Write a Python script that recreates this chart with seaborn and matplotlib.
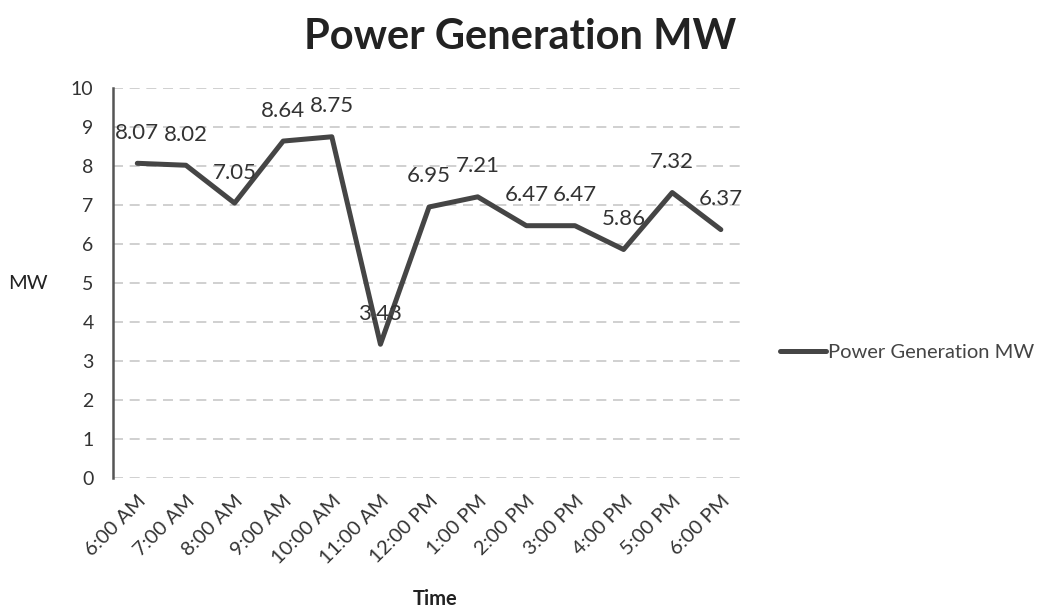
import matplotlib
matplotlib.use("Agg")
import matplotlib.pyplot as plt
import seaborn as sns
import pandas as pd

times = ["6:00 AM", "7:00 AM", "8:00 AM", "9:00 AM", "10:00 AM", "11:00 AM",
         "12:00 PM", "1:00 PM", "2:00 PM", "3:00 PM", "4:00 PM", "5:00 PM", "6:00 PM"]
power_mw = [8.07, 8.02, 7.05, 8.64, 8.75, 3.43, 6.95, 7.21, 6.47, 6.47, 5.86, 7.32, 6.37]
y_ticks = [0, 1, 2, 3, 4, 5, 6, 7, 8, 9, 10]

sns.set_theme(style="white")
plt.rcParams['font.family'] = ['Lato', 'DejaVu Sans']

df = pd.DataFrame({"idx": range(len(times)), "Time": times, "MW": power_mw})

fig = plt.figure(figsize=(10.51, 6.13), dpi=100)
ax = fig.add_axes([0.1075, 0.2202, 0.6015, 0.6362])

for y in y_ticks:
    ax.axhline(y, color="#c8c8c8", lw=1.2, ls=(0, (6, 4)), zorder=0)

sns.lineplot(data=df, x="idx", y="MW", ax=ax, color="#454545", lw=3.6,
             label="Power Generation MW", legend=False)

for i, v in enumerate(power_mw):
    ax.annotate(f"{v:.2f}", (i, v), xytext=(0, 22), textcoords="offset points",
                ha="center", va="center", fontsize=16, color="#333333")

ax.set_xlim(-0.5, len(times) - 0.5)
ax.set_ylim(0, 10)
ax.set_yticks(y_ticks)
ax.set_yticklabels([str(t) for t in y_ticks], fontsize=14, color="#333333")
ax.set_xticks(range(len(times)))
ax.set_xticklabels(times, rotation=45, ha="right", rotation_mode="anchor",
                   fontsize=14.5, color="#333333")
ax.tick_params(axis="y", length=0, pad=14)
ax.tick_params(axis="x", length=0, pad=10)

for s in ["top", "right", "bottom"]:
    ax.spines[s].set_visible(False)
ax.spines["left"].set_color("#555555")
ax.spines["left"].set_linewidth(1.8)

ax.set_xlabel("Time", fontsize=14.5, fontweight="bold", color="#222222", va="center")
ax.xaxis.set_label_coords(0.51, -0.31)
ax.set_ylabel("MW", fontsize=14.5, color="#222222", rotation=0, va="center")
ax.yaxis.set_label_coords(-0.135, 0.5)

fig.suptitle("Power Generation MW", x=0.495, y=0.97, fontsize=30, fontweight="bold",
             color="#222222")

handles, labels = ax.get_legend_handles_labels()
fig.legend(handles, labels, loc="center left", bbox_to_anchor=(0.725, 0.425),
           frameon=False, fontsize=14.5, handlelength=2.3, handletextpad=0.1,
           labelcolor="#444444")

fig.savefig("out.png", dpi=100)
